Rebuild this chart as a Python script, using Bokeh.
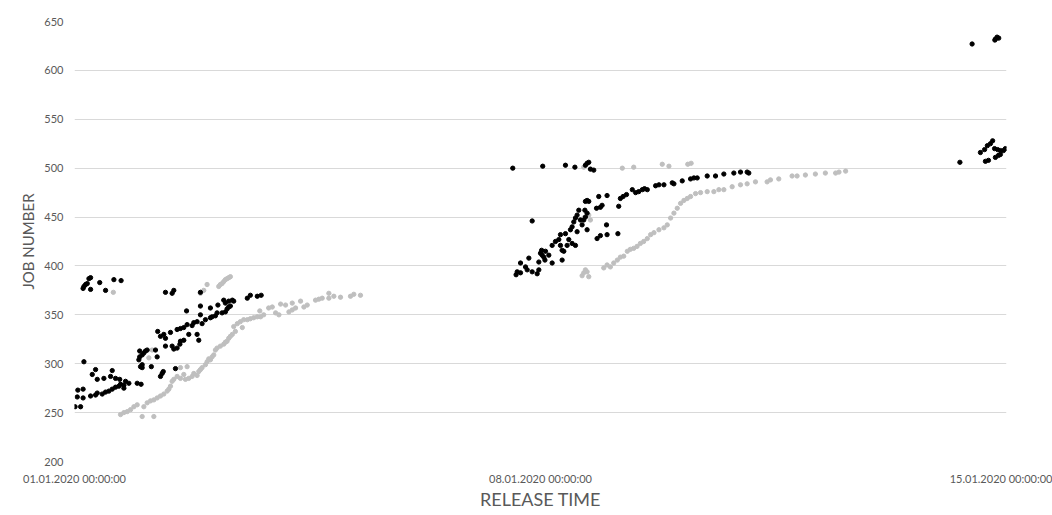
from datetime import datetime, timedelta
from bokeh.plotting import figure
from bokeh.models import ColumnDataSource, FixedTicker, DatetimeTickFormatter, Range1d
from bokeh.embed import file_html
from bokeh.resources import INLINE

START = datetime(2020, 1, 1, 0, 0, 0)

# Release time in hours after 01.01.2020 00:00:00, and job numbers
black_hours = [
    0.2, 2.2, 1.0, 3.1, 1.2, 3.1, 5.8, 7.6, 8.2, 10.0, 11.2, 12.4, 13.6, 14.8, 16.0, 17.8, 19.6,
    3.4, 6.4, 7.6, 8.2, 10.6, 13.0, 13.6, 14.8, 16.3, 16.6, 17.8, 18.4, 22.6, 24.0,
    3.4, 4.0, 4.6, 5.2, 5.8, 3.1, 5.8, 9.1, 11.2, 14.2, 16.8,
    32.8, 35.2, 35.8, 45.4,
    23.2, 23.8, 23.5, 24.4, 25.0, 25.6, 26.2, 23.5, 24.4, 24.4,
    27.7, 29.2, 29.8, 31.0, 31.6, 32.0, 36.4,
    30.0, 31.0, 32.2, 32.8, 34.6,
    32.8, 35.2, 35.8, 37.0, 38.0, 38.2, 39.4,
    37.0, 38.2, 39.4, 40.6, 40.4, 41.2, 42.4, 43.0, 44.2, 44.2, 44.8,
    45.4, 45.4, 46.0, 47.2, 49.0, 49.6, 50.8, 49.0, 51.4, 51.7, 53.2, 54.4, 54.4, 55.0, 55.6,
    56.2, 55.6, 56.9, 57.4, 53.8,
    62.3, 63.4, 65.9, 67.3,
    158.0, 168.8, 177.0, 180.4, 184.8, 185.4, 184.2, 186.0, 187.2, 165.0,
    159.2, 159.6, 160.8, 160.8, 162.6, 163.2, 163.8, 165.0, 166.8, 167.4,
    167.4, 168.4, 168.0, 168.6, 169.2, 169.6, 169.8, 171.0, 172.2, 172.2,
    173.4, 174.6, 175.2, 175.8, 176.4, 175.8, 175.2, 177.0, 177.6, 178.2,
    178.8, 179.4, 180.0, 180.6, 181.2, 181.8, 182.4, 179.4, 180.6, 181.2,
    183.0, 183.6, 184.2, 184.8, 184.2, 184.8, 184.0, 185.4, 184.8, 188.2,
    189.6, 190.2, 189.0, 192.0, 188.4, 189.6, 192.0, 191.8, 195.9, 196.2,
    196.8, 197.8, 199.0, 201.1, 202.3, 203.4, 204.7, 205.5, 206.5, 209.5,
    210.7, 212.5, 215.5, 216.1, 219.1, 222.1, 223.3, 224.5, 228.1, 231.1,
    234.1, 237.7, 240.1, 242.5, 243.1,
    323.6, 332.0, 332.6, 333.2, 331.8,
    319.2, 326.6, 328.1, 329.1, 330.2, 331.0, 331.7, 332.8, 333.8, 334.9, 333.1, 332.0, 328.4,
    329.5, 333.8, 335.6,
]
black_jobs = [
    256, 256, 266, 265, 273, 274, 267, 268, 270, 269, 271, 272, 274, 276, 277, 278, 280,
    302, 289, 294, 284, 285, 287, 293, 285, 284, 279, 275, 282, 280, 279,
    379, 381, 382, 387, 388, 377, 376, 383, 375, 386, 385,
    373, 372, 375, 373,
    304, 297, 307, 309, 311, 313, 314, 313, 296, 299,
    297, 314, 307, 287, 290, 292, 295,
    333, 328, 330, 326, 332,
    318, 318, 315, 316, 320, 323, 324,
    335, 336, 337, 340, 354, 330, 339, 342, 343, 330, 324,
    359, 350, 341, 345, 347, 348, 349, 357, 352, 360, 352, 353, 362, 356, 358,
    359, 364, 365, 364, 365,
    367, 370, 369, 370,
    500, 502, 503, 501, 505, 506, 503, 499, 498, 446,
    391, 394, 393, 403, 399, 396, 408, 394, 392, 396,
    404, 416, 413, 411, 409, 406, 415, 411, 403, 421,
    425, 427, 421, 416, 415, 406, 432, 433, 421, 427,
    437, 440, 445, 449, 452, 457, 447, 423, 421, 435,
    442, 447, 450, 437, 466, 467, 457, 466, 454, 459,
    460, 462, 471, 472, 428, 431, 432, 442, 433, 461,
    469, 471, 473, 478, 475, 476, 478, 479, 478, 482,
    483, 483, 485, 484, 487, 489, 490, 490, 492, 492,
    494, 495, 496, 496, 495,
    627, 632, 634, 633, 631,
    506, 516, 519, 523, 525, 528, 520, 519, 518, 518, 513, 511, 507,
    508, 514, 520,
]

gray_hours = [
    16.6, 17.8, 19.0, 20.2, 21.4, 22.6, 24.4, 28.6, 25.0, 26.2,
    27.4, 28.6, 29.8, 31.0, 32.2, 33.4, 34.0, 34.6, 35.2, 35.8,
    37.0, 38.2, 39.4, 40.0, 41.2, 42.4, 43.0, 44.2, 44.8, 45.4,
    46.0, 47.2, 47.8, 48.4, 49.0, 49.6, 50.2, 50.8, 51.4, 52.6,
    53.8, 54.4, 55.0, 55.6, 56.2, 56.9,
    57.4, 58.7, 59.8, 61.0, 62.3, 63.4, 64.6, 65.9, 67.1, 68.2,
    66.8, 70.0, 71.3, 72.5, 73.7, 74.3, 76.1, 77.3, 78.5, 79.7,
    78.5, 81.5, 82.7, 83.9, 86.9, 88.1, 89.3, 91.7, 91.7, 93.5,
    95.9, 99.5, 100.7, 103.1, 58.0, 60.5,
    45.4, 46.6, 47.8, 52.0, 52.6, 53.2, 53.8, 54.4, 55.0, 55.6, 56.2,
    14.0, 28.0, 26.8, 38.2, 40.6,
    183.6, 197.5, 201.6, 211.9, 214.3, 221.1, 222.3,
    183.6, 185.4, 186.0,
    183.0, 183.6, 184.8, 185.4, 184.2, 190.8, 192.0, 193.2, 194.4, 195.7,
    196.8, 198.0, 199.3, 200.4, 201.6, 202.8, 204.0, 205.2, 206.5, 207.7,
    208.9, 210.7, 212.5, 213.7, 214.9, 216.1, 217.3, 218.5, 219.7, 220.9,
    222.1, 223.9, 225.7, 228.1, 230.5, 232.3, 234.1, 237.1, 240.1, 242.5,
    245.5, 249.7, 250.9, 253.9, 258.7, 260.5, 263.5, 267.1, 270.7, 274.4,
    275.6, 278.0,
]
gray_jobs = [
    248, 250, 251, 253, 256, 258, 246, 246, 256, 260,
    262, 263, 265, 267, 269, 272, 274, 277, 282, 284,
    287, 285, 289, 284, 285, 287, 290, 288, 292, 294,
    296, 299, 302, 305, 304, 307, 309, 314, 316, 318,
    320, 322, 323, 326, 328, 330,
    338, 341, 343, 345, 345, 346, 347, 348, 348, 350,
    354, 357, 358, 352, 350, 361, 360, 353, 355, 357,
    362, 364, 358, 360, 365, 366, 367, 372, 367, 369,
    368, 369, 371, 370, 333, 337,
    372, 375, 381, 379, 381, 382, 384, 386, 387, 388, 389,
    373, 314, 306, 296, 297,
    501, 500, 501, 504, 502, 504, 505,
    449, 452, 447,
    390, 393, 394, 389, 396, 398, 401, 399, 403, 406,
    409, 410, 415, 417, 418, 420, 423, 425, 428, 432,
    434, 437, 439, 442, 449, 454, 459, 464, 467, 469,
    471, 474, 475, 476, 476, 478, 478, 481, 483, 484,
    486, 486, 488, 489, 492, 492, 493, 494, 495, 495,
    496, 497,
]

x_tick_hours = [0, 168, 336]
y_ticks = [200, 250, 300, 350, 400, 450, 500, 550, 600, 650]


def to_dt(hours):
    return [START + timedelta(hours=h) for h in hours]


def to_ms(dt):
    return (dt - datetime(1970, 1, 1)).total_seconds() * 1000.0


FONT = "Lato"
TXT = "#595959"

p = figure(
    width=1052, height=512,
    x_axis_type="datetime",
    x_range=Range1d(START, START + timedelta(hours=336)),
    y_range=Range1d(200, 650),
    output_backend="svg", toolbar_location=None,
    min_border_left=74, min_border_right=46, min_border_top=21, min_border_bottom=50,
)

gray_src = ColumnDataSource(dict(t=to_dt(gray_hours), job=gray_jobs))
black_src = ColumnDataSource(dict(t=to_dt(black_hours), job=black_jobs))
p.scatter("t", "job", source=gray_src, size=4.3, color="#bfbfbf")
p.scatter("t", "job", source=black_src, size=4.3, color="#000000")

p.xaxis.ticker = FixedTicker(ticks=[to_ms(d) for d in to_dt(x_tick_hours)])
fmt = "%d.%m.%Y %H:%M:%S"
p.xaxis.formatter = DatetimeTickFormatter(
    microseconds=fmt, milliseconds=fmt, seconds=fmt, minsec=fmt, minutes=fmt,
    hourmin=fmt, hours=fmt, days=fmt, months=fmt, years=fmt,
)
p.yaxis.ticker = FixedTicker(ticks=y_ticks)

p.xgrid.grid_line_color = None
p.ygrid.grid_line_color = "#d9d9d9"
p.ygrid.grid_line_width = 1
p.outline_line_color = None

for ax in p.axis:
    ax.axis_line_color = None
    ax.major_tick_line_color = None
    ax.minor_tick_line_color = None
    ax.major_tick_in = 0
    ax.major_tick_out = 0
    ax.major_label_text_font = FONT
    ax.major_label_text_font_size = "11px"
    ax.major_label_text_color = TXT
    ax.axis_label_text_font = FONT
    ax.axis_label_text_font_style = "normal"
    ax.axis_label_text_color = TXT

p.xaxis.axis_label = "RELEASE TIME"
p.yaxis.axis_label = "JOB NUMBER"
p.xaxis.axis_label_text_font_size = "18px"
p.yaxis.axis_label_text_font_size = "15px"
p.xaxis.major_label_standoff = 10
p.yaxis.major_label_standoff = 11
p.xaxis.axis_label_standoff = 0
p.yaxis.axis_label_standoff = 4

open("out.html", "w").write(file_html(p, INLINE))
